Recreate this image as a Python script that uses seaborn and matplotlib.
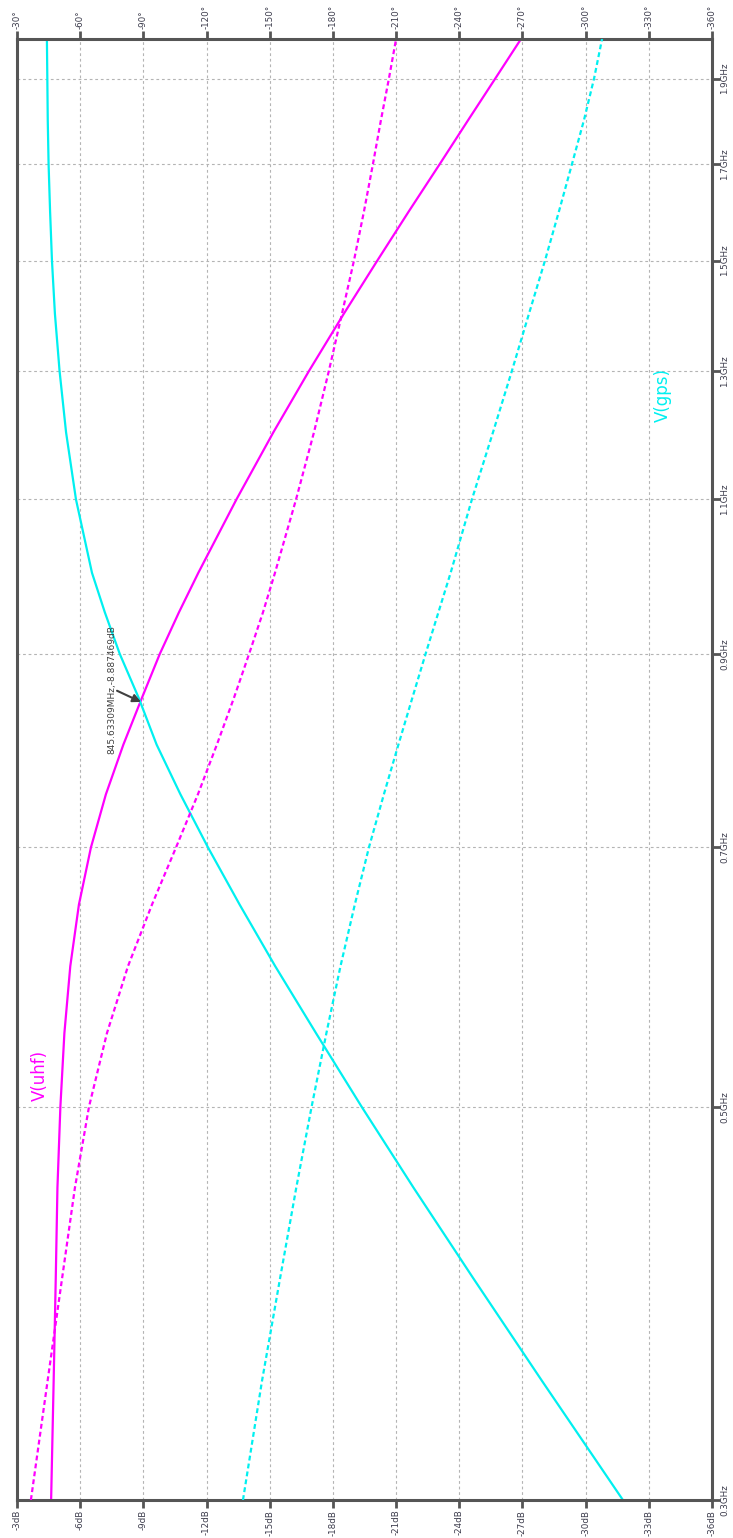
import numpy as np
import pandas as pd
import matplotlib
matplotlib.use('Agg')
import matplotlib.pyplot as plt
import seaborn as sns
from matplotlib.ticker import FixedLocator, NullLocator, FixedFormatter

# ---------------- data ----------------
freq_ghz = [0.30, 0.35, 0.40, 0.45, 0.50, 0.55, 0.60, 0.65, 0.70, 0.75, 0.80, 0.85, 0.90, 0.95,
            1.00, 1.10, 1.20, 1.30, 1.40, 1.50, 1.60, 1.70, 1.80, 1.90, 2.00]
uhf_mag_db = [-4.62, -4.74, -4.84, -4.92, -5.06, -5.25, -5.53, -5.94, -6.51, -7.22, -8.05, -8.93,
              -9.78, -10.69, -11.61, -13.42, -15.17, -16.87, -18.52, -20.11, -21.62, -23.07,
              -24.42, -25.71, -26.93]
uhf_phase_deg = [-36.6, -44.5, -51.4, -57.5, -64.2, -72.7, -82.7, -94.1, -105.5, -115.9, -124.9,
                 -133.0, -140.2, -146.8, -152.5, -162.5, -171.0, -178.1, -184.3, -190.0, -194.8,
                 -199.0, -202.8, -206.6, -210.0]
gps_mag_db = [-31.77, -27.94, -24.67, -21.83, -19.36, -17.20, -15.26, -13.57, -12.07, -10.76,
              -9.63, -8.78, -7.88, -7.17, -6.56, -5.80, -5.33, -5.02, -4.80, -4.66, -4.57, -4.50,
              -4.46, -4.44, -4.42]
gps_phase_deg = [-137.3, -146.3, -154.9, -162.6, -169.9, -176.9, -183.6, -190.4, -197.1, -204.2,
                 -211.1, -217.7, -224.0, -230.1, -235.9, -246.0, -256.0, -265.0, -273.1, -280.7,
                 -287.4, -293.5, -299.2, -304.0, -307.8]

db_ticks = [-3, -6, -9, -12, -15, -18, -21, -24, -27, -30, -33, -36]
db_tick_labels = ['-3dB', '-6dB', '-9dB', '-12dB', '-15dB', '-18dB', '-21dB', '-24dB',
                  '-27dB', '-30dB', '-33dB', '-36dB']
phase_ticks = [-30, -60, -90, -120, -150, -180, -210, -240, -270, -300, -330, -360]
phase_tick_labels = ['-30°', '-60°', '-90°', '-120°', '-150°', '-180°', '-210°', '-240°',
                     '-270°', '-300°', '-330°', '-360°']
freq_ticks = [0.3, 0.5, 0.7, 0.9, 1.1, 1.3, 1.5, 1.7, 1.9]
freq_tick_labels = ['0.3GHz', '0.5GHz', '0.7GHz', '0.9GHz', '1.1GHz', '1.3GHz', '1.5GHz',
                    '1.7GHz', '1.9GHz']
marker_freq = 0.84563309
marker_db = -8.887469
marker_label = '845.63309MHz,-8.887469dB'
trace_names = ['V(uhf)', 'V(gps)']

# ---------------- style ----------------
sns.set_theme(style='white')
plt.rcParams['font.family'] = ['DejaVu Sans']

MAG = '#FF00FF'
CYA = '#00F0F0'
FRAME = '#555555'
TXT = '#3c3c4c'
TICK_FS = 6.3

W, H = 733, 1538
fig = plt.figure(figsize=(W / 100, H / 100), dpi=100)
fig.patch.set_facecolor('white')
L, R, T, B = 17, 712, 39, 1500
ax = fig.add_axes([L / W, 1 - B / H, (R - L) / W, (B - T) / H])
ax.set_facecolor('white')

df = pd.DataFrame({'f': freq_ghz, 'uhf_mag': uhf_mag_db, 'uhf_ph': uhf_phase_deg,
                   'gps_mag': gps_mag_db, 'gps_ph': gps_phase_deg})

ax.set_yscale('log')
sns.lineplot(data=df, x='uhf_mag', y='f', ax=ax, color=MAG, lw=1.6, sort=False, estimator=None)
sns.lineplot(data=df, x='gps_mag', y='f', ax=ax, color=CYA, lw=1.6, sort=False, estimator=None)

ax.set_xlim(-3, -36)
ax.set_ylim(0.3, 2.0)
ax.xaxis.set_major_locator(FixedLocator(db_ticks))
ax.xaxis.set_major_formatter(FixedFormatter(db_tick_labels))
ax.yaxis.set_major_locator(FixedLocator(freq_ticks))
ax.yaxis.set_major_formatter(FixedFormatter(freq_tick_labels))
ax.yaxis.set_minor_locator(NullLocator())
ax.set_xlabel('')
ax.set_ylabel('')
ax.grid(True, which='major', color='#b4b4b4', lw=0.8, ls=(0, (2.5, 2.5)))
ax.set_axisbelow(True)

ax.tick_params(axis='x', which='major', bottom=True, top=False, direction='out', length=6, width=2,
               color=FRAME, labelsize=TICK_FS, labelcolor=TXT, labelrotation=90, pad=1)
ax.tick_params(axis='y', which='major', left=False, right=True, labelleft=False, labelright=True,
               direction='out', length=6, width=2, color=FRAME, labelsize=TICK_FS, labelcolor=TXT,
               labelrotation=90, pad=0)
for lab in ax.get_yticklabels():
    lab.set_va('center')
for sp in ax.spines.values():
    sp.set_color(FRAME)
    sp.set_linewidth(2.2)

ax2 = ax.twiny()
sns.lineplot(data=df, x='uhf_ph', y='f', ax=ax2, color=MAG, lw=1.6, sort=False, estimator=None,
             linestyle=(0, (2.2, 1.4)))
sns.lineplot(data=df, x='gps_ph', y='f', ax=ax2, color=CYA, lw=1.6, sort=False, estimator=None,
             linestyle=(0, (2.2, 1.4)))
ax2.set_xlim(-30, -360)
ax2.xaxis.set_major_locator(FixedLocator(phase_ticks))
ax2.xaxis.set_major_formatter(FixedFormatter(phase_tick_labels))
ax2.set_xlabel('')
ax2.set_ylabel('')
ax2.tick_params(axis='x', which='major', top=True, bottom=False, direction='out', length=6, width=2,
                color=FRAME, labelsize=TICK_FS, labelcolor=TXT, labelrotation=90, pad=1)
for sp in ax2.spines.values():
    sp.set_visible(False)
ax.set_ylim(0.3, 2.0)

# trace names
ax.text(-3 - (40 - L) / 21.06, 0.3 * np.exp((B - 1075) / 770.2), trace_names[0], color=MAG,
        rotation=90, ha='center', va='center', fontsize=12)
ax.text(-3 - (663 - L) / 21.06, 0.3 * np.exp((B - 395) / 770.2), trace_names[1], color=CYA,
        rotation=90, ha='center', va='center', fontsize=12)

# marker annotation
ax.annotate('', xy=(marker_db, marker_freq), xytext=(-7.75, 0.858),
            arrowprops=dict(arrowstyle='-|>', color='#404040', lw=1.5, mutation_scale=12,
                            shrinkA=0, shrinkB=0))
ax.text(-7.5, 0.79, marker_label, rotation=90, ha='center', va='bottom', fontsize=6.5, color='#404040')

fig.savefig('out.png', dpi=100, facecolor='white')
